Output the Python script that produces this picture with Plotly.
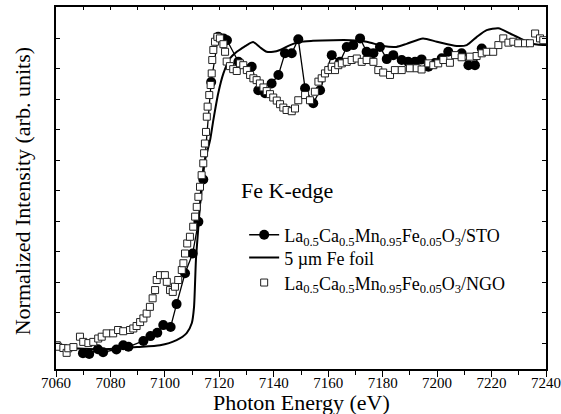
import plotly.graph_objects as go

# ---- data ----
sto_x = [7069.9, 7072.2, 7075.4, 7077.3, 7082.2, 7084.7, 7086.6, 7092.1, 7094.7, 7097.2,
         7099.4, 7102.1, 7104.3, 7107.4, 7110.2, 7112.3, 7114.1, 7117.0, 7119.6, 7121.5,
         7122.8, 7127.0, 7131.9, 7134.3, 7136.8, 7139.2, 7141.7, 7144.1, 7146.6, 7149.0,
         7151.5, 7154.5, 7157.0, 7161.3, 7164.3, 7166.8, 7169.2, 7171.7, 7174.1, 7176.6,
         7179.0, 7181.5, 7183.9, 7187.0, 7189.4, 7191.9, 7194.3, 7196.8, 7199.2, 7201.7,
         7204.1, 7209.0, 7211.5, 7213.9, 7216.4]
sto_y = [-0.033, -0.036, -0.020, -0.030, -0.021, -0.007, -0.012, 0.007, 0.023, 0.034,
         0.059, 0.053, 0.128, 0.229, 0.294, 0.398, 0.537, 0.857, 1.005, 1.000,
         0.994, 0.923, 0.907, 0.830, 0.820, 0.852, 0.880, 0.951, 0.951, 0.997,
         0.836, 0.787, 0.830, 0.945, 0.923, 0.972, 0.978, 1.000, 0.956, 0.951,
         0.972, 0.932, 0.945, 0.929, 0.923, 0.923, 0.931, 0.907, 0.919, 0.935,
         0.956, 0.951, 0.912, 0.912, 0.967]

foil_x = [7060.0, 7068.0, 7076.2, 7084.0, 7089.8, 7098.2, 7104.3, 7108.0, 7109.9, 7110.7,
          7111.4, 7112.3, 7113.3, 7114.4, 7115.4, 7116.6, 7117.8, 7119.6, 7121.5, 7123.9,
          7126.4, 7128.2, 7130.1, 7132.4, 7134.9, 7137.4, 7139.8, 7142.3, 7146.0, 7149.6,
          7154.4, 7161.8, 7168.0, 7174.1, 7180.1, 7185.0, 7188.8, 7194.8, 7199.9, 7207.2,
          7210.9, 7214.6, 7218.2, 7222.5, 7226.8, 7230.5, 7234.1, 7238.9, 7240.0]
foil_y = [-0.016, -0.018, -0.020, -0.017, -0.013, -0.007, 0.010, 0.033, 0.066, 0.118,
          0.272, 0.382, 0.502, 0.591, 0.623, 0.666, 0.732, 0.820, 0.885, 0.934,
          0.956, 0.967, 0.978, 0.988, 0.971, 0.956, 0.956, 0.962, 0.978, 0.989,
          0.992, 0.994, 0.994, 0.989, 0.975, 0.972, 0.982, 1.000, 0.989, 0.975,
          0.978, 1.005, 1.027, 1.033, 1.016, 1.000, 0.984, 0.978, 0.978]

ngo_x = [7060.3, 7060.8, 7062.7, 7063.9, 7064.5, 7066.4, 7068.8, 7070.0, 7071.9, 7073.7,
         7075.5, 7076.8, 7078.6, 7081.0, 7082.8, 7084.7, 7087.2, 7088.4, 7089.6, 7090.9,
         7092.1, 7093.3, 7094.5, 7095.5, 7096.4, 7097.0, 7098.2, 7100.0, 7100.7, 7101.9,
         7102.9, 7103.7, 7104.9, 7106.2, 7106.8, 7107.4, 7108.2, 7109.2, 7110.4, 7111.1,
         7111.7, 7112.3, 7112.9, 7113.5, 7114.1, 7114.4, 7114.7, 7115.1, 7115.4, 7115.7,
         7116.3, 7116.8, 7117.2, 7117.4, 7117.8, 7118.4, 7119.3, 7120.2, 7121.5, 7122.1,
         7122.7, 7123.9, 7125.1, 7126.4, 7127.6, 7128.8, 7130.1, 7131.3, 7132.5, 7133.7,
         7134.9, 7136.2, 7137.4, 7138.6, 7139.8, 7141.1, 7142.3, 7143.5, 7144.7, 7146.6,
         7147.8, 7149.0, 7151.5, 7153.3, 7155.1, 7156.4, 7157.6, 7158.8, 7160.0, 7161.3,
         7162.5, 7163.7, 7165.0, 7166.8, 7168.6, 7170.5, 7172.3, 7174.1, 7176.6, 7178.4,
         7180.2, 7182.7, 7184.5, 7187.0, 7190.0, 7192.5, 7194.3, 7196.8, 7198.6, 7200.4,
         7202.3, 7204.7, 7206.6, 7209.0, 7212.1, 7214.5, 7216.4, 7218.2, 7220.6, 7222.5,
         7224.3, 7226.2, 7228.0, 7229.8, 7232.3, 7234.1, 7236.0, 7237.8, 7239.0]
ngo_y = [-0.007, -0.012, -0.016, -0.032, -0.017, -0.013, 0.021, 0.004, 0.000, 0.004,
         0.015, 0.021, 0.032, 0.032, 0.043, 0.039, 0.043, 0.048, 0.056, 0.069,
         0.081, 0.097, 0.119, 0.147, 0.174, 0.207, 0.223, 0.223, 0.201, 0.174,
         0.168, 0.185, 0.207, 0.240, 0.262, 0.294, 0.327, 0.349, 0.382, 0.415,
         0.447, 0.480, 0.513, 0.551, 0.590, 0.623, 0.655, 0.693, 0.743, 0.776,
         0.814, 0.847, 0.885, 0.929, 0.962, 0.989, 1.005, 1.000, 0.981, 0.956,
         0.924, 0.909, 0.899, 0.893, 0.918, 0.912, 0.896, 0.880, 0.869, 0.863,
         0.852, 0.839, 0.827, 0.817, 0.806, 0.796, 0.784, 0.773, 0.765, 0.761,
         0.770, 0.797, 0.814, 0.797, 0.825, 0.858, 0.869, 0.885, 0.896, 0.907,
         0.896, 0.912, 0.918, 0.923, 0.929, 0.934, 0.923, 0.929, 0.923, 0.896,
         0.888, 0.880, 0.896, 0.896, 0.902, 0.902, 0.898, 0.918, 0.912, 0.918,
         0.929, 0.920, 0.945, 0.938, 0.940, 0.942, 0.951, 0.956, 0.956, 0.978,
         1.000, 0.986, 0.989, 0.984, 0.984, 0.984, 1.016, 1.000, 0.994]

name_sto = "La<sub>0.5</sub>Ca<sub>0.5</sub>Mn<sub>0.95</sub>Fe<sub>0.05</sub>O<sub>3</sub>/STO"
name_foil = "5 µm Fe foil"
name_ngo = "La<sub>0.5</sub>Ca<sub>0.5</sub>Mn<sub>0.95</sub>Fe<sub>0.05</sub>O<sub>3</sub>/NGO"

FONT = "Liberation Serif, Times New Roman, serif"

fig = go.Figure()
fig.add_trace(go.Scatter(x=sto_x, y=sto_y, mode="lines+markers", name=name_sto,
                         legend="legend",
                         line=dict(color="black", width=1.3),
                         marker=dict(symbol="circle", size=10, color="black")))
fig.add_trace(go.Scatter(x=foil_x, y=foil_y, mode="lines", name=name_foil,
                         legend="legend2",
                         line=dict(color="black", width=2, shape="spline", smoothing=0.6)))
fig.add_trace(go.Scatter(x=ngo_x, y=ngo_y, mode="markers", name=name_ngo,
                         legend="legend3",
                         marker=dict(symbol="square", size=7, color="white",
                                     line=dict(color="#222", width=1))))
# invisible trace to activate the top axis
fig.add_trace(go.Scatter(x=[7060, 7240], y=[None, None], xaxis="x2", showlegend=False,
                         hoverinfo="skip", mode="lines"))

leg_common = dict(x=0.384, xanchor="left", yanchor="middle",
                  font=dict(family=FONT, size=18, color="black"),
                  bgcolor="rgba(0,0,0,0)", itemwidth=30)

fig.update_layout(
    width=561, height=414,
    margin=dict(l=56, r=15, t=7, b=45, autoexpand=False),
    paper_bgcolor="white", plot_bgcolor="white",
    font=dict(family=FONT, color="black"),
    showlegend=True,
    legend=dict(y=0.370, **leg_common),
    legend2=dict(y=0.307, **leg_common),
    legend3=dict(y=0.238, **leg_common),
    xaxis=dict(range=[7060, 7240], tick0=7060, dtick=20, ticks="outside", ticklen=6,
               tickwidth=1, tickcolor="black", showline=True, linecolor="black",
               linewidth=1.5, mirror=True, showgrid=False, zeroline=False,
               ticklabelstandoff=-7,
               tickfont=dict(family=FONT, size=15, color="black"),
               minor=dict(dtick=10, tick0=7060, ticks="outside", ticklen=4,
                          tickcolor="black", tickwidth=1, showgrid=False)),
    xaxis2=dict(range=[7060, 7240], overlaying="x", side="top", anchor="y",
                tick0=7060, dtick=10, ticks="inside", ticklen=3, tickcolor="black",
                showticklabels=False, showline=False, showgrid=False, zeroline=False),
    yaxis=dict(range=[-0.085, 1.103], tick0=0, dtick=0.1, ticks="inside", ticklen=4,
               tickcolor="black", showticklabels=False, showline=True,
               linecolor="black", linewidth=1.5, mirror="ticks", showgrid=False,
               zeroline=False),
    annotations=[
        dict(text="Photon Energy (eV)", xref="paper", yref="paper", x=0.5, y=-0.092,
             xanchor="center", yanchor="middle", showarrow=False,
             font=dict(family=FONT, size=22, color="black")),
        dict(text="Normalized Intensity (arb. units)", xref="paper", yref="paper",
             x=-0.068, y=0.49, xanchor="center", yanchor="middle", textangle=-90,
             showarrow=False, font=dict(family=FONT, size=22, color="black")),
        dict(text="Fe K-edge", xref="paper", yref="paper", x=0.374, y=0.492,
             xanchor="left", yanchor="middle", showarrow=False,
             font=dict(family=FONT, size=22, color="black")),
    ],
)

fig.write_html("out.html", config={"displayModeBar": False},
               post_script="document.body.style.margin='0px';")
